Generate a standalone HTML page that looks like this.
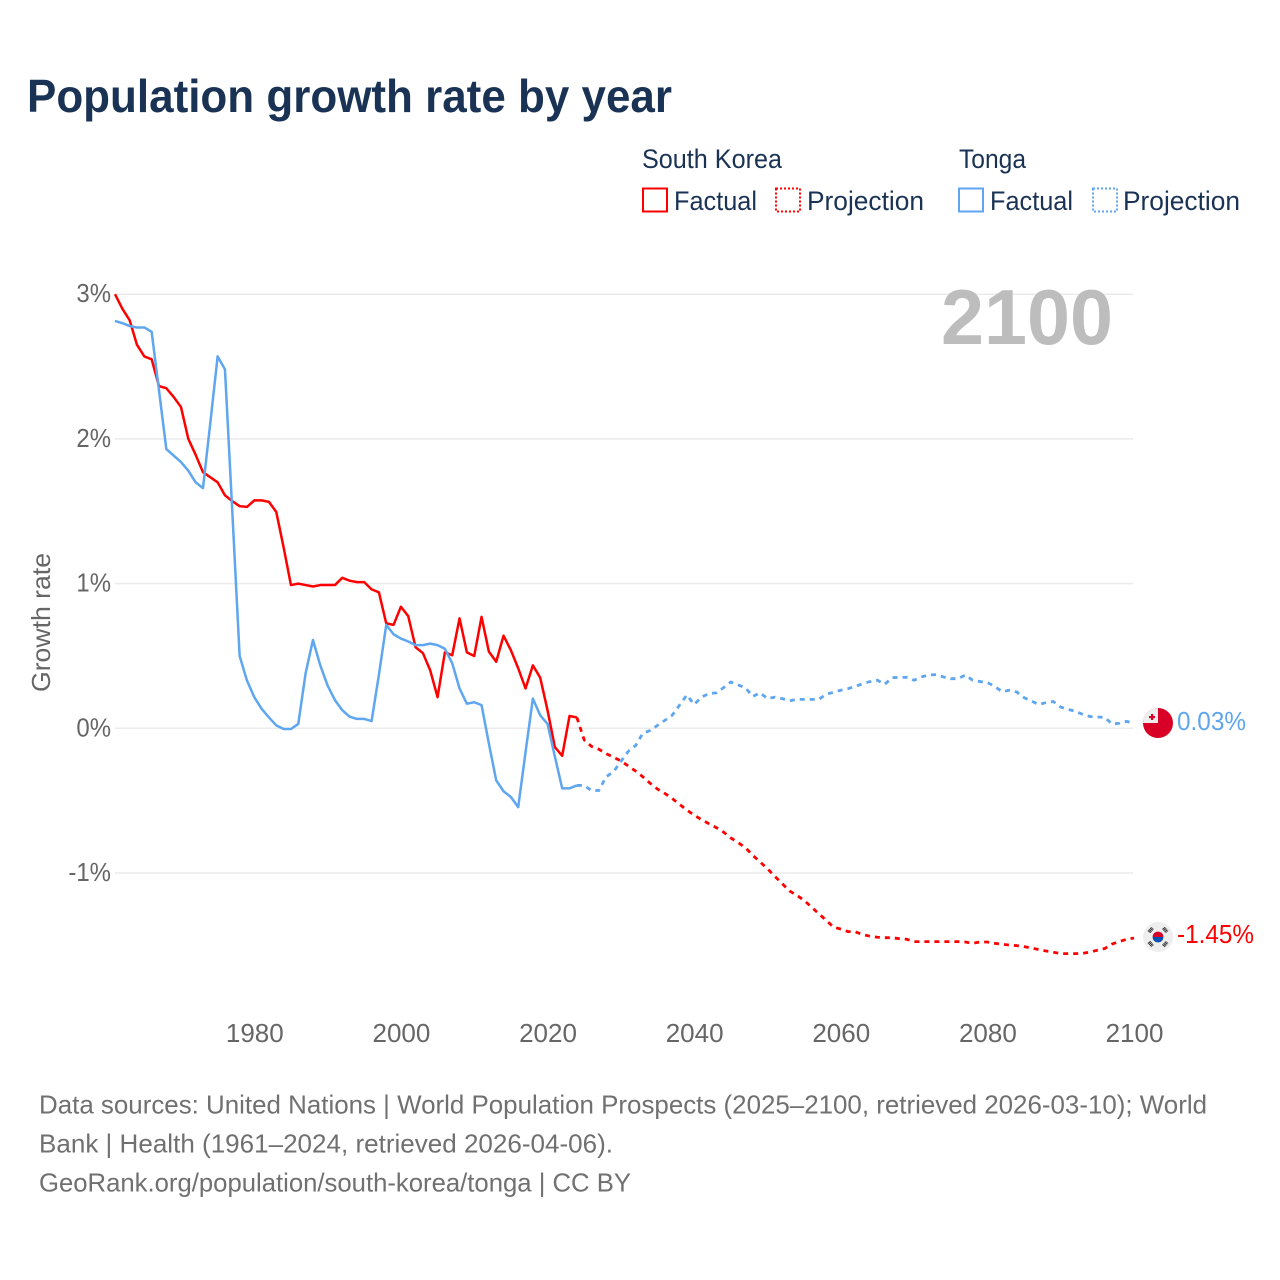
<!DOCTYPE html>
<html lang="en">
<head>
<meta charset="utf-8">
<title>Population growth rate by year</title>
<style>
html,body{margin:0;padding:0;background:#fff}
svg{display:block;font-family:"Liberation Sans",sans-serif}
</style>
</head>
<body>
<svg id="chart" xmlns="http://www.w3.org/2000/svg" width="1280" height="1280" viewBox="0 0 1280 1280">
  <rect x="0" y="0" width="1280" height="1280" fill="#ffffff"/>
  <text x="27" y="112" font-size="46" font-weight="700" fill="#1a3354" textLength="645" lengthAdjust="spacingAndGlyphs">Population growth rate by year</text>

  <g font-size="27" fill="#1a3354">
    <text x="642" y="168" textLength="140" lengthAdjust="spacingAndGlyphs">South Korea</text>
    <text x="959" y="168" textLength="67" lengthAdjust="spacingAndGlyphs">Tonga</text>
    <g>
      <rect x="643" y="188.5" width="24" height="23" fill="none" stroke="#ff0000" stroke-width="2"/>
      <text x="674" y="210" textLength="83" lengthAdjust="spacingAndGlyphs">Factual</text>
    </g>
    <g>
      <rect x="776" y="188.5" width="24" height="23" fill="none" stroke="#ff0000" stroke-width="2" stroke-dasharray="2 2"/>
      <text x="807" y="210" textLength="117" lengthAdjust="spacingAndGlyphs">Projection</text>
    </g>
    <g>
      <rect x="959" y="188.5" width="24" height="23" fill="none" stroke="#5ea6ef" stroke-width="2"/>
      <text x="990" y="210" textLength="83" lengthAdjust="spacingAndGlyphs">Factual</text>
    </g>
    <g>
      <rect x="1093" y="188.5" width="24" height="23" fill="none" stroke="#5ea6ef" stroke-width="2" stroke-dasharray="2 2"/>
      <text x="1123" y="210" textLength="117" lengthAdjust="spacingAndGlyphs">Projection</text>
    </g>
  </g>

  <g id="grid"></g>
  <g id="yticks"></g>
  <g id="xticks"></g>
  <text transform="translate(50,622.5) rotate(-90)" text-anchor="middle" font-size="26" fill="#666666" textLength="139" lengthAdjust="spacingAndGlyphs">Growth rate</text>
  <text x="941" y="344" font-size="78" font-weight="700" fill="#bdbdbd" textLength="172" lengthAdjust="spacingAndGlyphs">2100</text>

  <g id="series"></g>

  <g>
    <clipPath id="tongaClip"><circle cx="1158" cy="723" r="15"/></clipPath>
    <circle cx="1158" cy="723" r="15" fill="#d80027"/>
    <rect x="1143" y="708" width="15" height="15" fill="#eeeeee" clip-path="url(#tongaClip)"/>
    <rect x="1151" y="714" width="2.2" height="6" fill="#d80027"/>
    <rect x="1149" y="716" width="6" height="2.2" fill="#d80027"/>
  </g>
  <text x="1177" y="730" font-size="26" fill="#5ea6ef" textLength="69" lengthAdjust="spacingAndGlyphs">0.03%</text>

  <g>
    <circle cx="1158" cy="937" r="15" fill="#eeeeee"/>
    <path d="M1152.6 937a5.4 5.4 0 0 1 10.8 0z" fill="#d80027"/>
    <path d="M1152.6 937a5.4 5.4 0 0 0 10.8 0z" fill="#0052b4"/>
    <g stroke="#222222" stroke-width="3.6" stroke-dasharray="1 .6">
      <line x1="1149" y1="932" x2="1152.5" y2="928"/>
      <line x1="1163.5" y1="928" x2="1167" y2="932"/>
      <line x1="1149" y1="942" x2="1152.5" y2="946"/>
      <line x1="1163.5" y1="946" x2="1167" y2="942"/>
    </g>
  </g>
  <text x="1177" y="943" font-size="26" fill="#ff0000" textLength="77" lengthAdjust="spacingAndGlyphs">-1.45%</text>

  <g font-size="26" fill="#707070">
    <text x="39" y="1113.5" textLength="1168" lengthAdjust="spacingAndGlyphs">Data sources: United Nations | World Population Prospects (2025–2100, retrieved 2026-03-10); World</text>
    <text x="39" y="1152.5" textLength="574" lengthAdjust="spacingAndGlyphs">Bank | Health (1961–2024, retrieved 2026-04-06).</text>
    <text x="39" y="1191.5" textLength="592" lengthAdjust="spacingAndGlyphs">GeoRank.org/population/south-korea/tonga | CC BY</text>
  </g>
</svg>
<script>
const factualStartYear = 1961;
const projectionStartYear = 2024;
const yTickValues = [3, 2, 1, 0, -1];
const yTickLabels = ["3%", "2%", "1%", "0%", "-1%"];
const xTickYears = [1980, 2000, 2020, 2040, 2060, 2080, 2100];
const southKoreaFactual = [3.00,2.90,2.82,2.65,2.57,2.55,2.365,2.35,2.29,2.22,2.0,1.89,1.77,1.735,1.70,1.61,1.57,1.535,1.53,1.575,1.575,1.565,1.495,1.25,0.99,1.0,0.99,0.98,0.99,0.99,0.99,1.04,1.02,1.01,1.01,0.96,0.94,0.725,0.715,0.84,0.775,0.56,0.52,0.40,0.215,0.525,0.505,0.76,0.525,0.50,0.77,0.53,0.46,0.64,0.54,0.415,0.275,0.435,0.35,0.125,-0.13,-0.19,0.085,0.075];
const tongaFactual = [2.815,2.80,2.78,2.77,2.77,2.74,2.335,1.93,1.885,1.84,1.78,1.70,1.66,2.11,2.57,2.48,1.5,0.50,0.33,0.215,0.135,0.075,0.02,-0.005,-0.005,0.03,0.38,0.61,0.435,0.295,0.195,0.125,0.08,0.065,0.065,0.05,0.37,0.715,0.65,0.62,0.60,0.575,0.575,0.585,0.575,0.55,0.45,0.275,0.17,0.18,0.16,-0.105,-0.36,-0.435,-0.475,-0.545,-0.165,0.205,0.09,0.03,-0.195,-0.415,-0.415,-0.395];
const southKoreaProjection = [0.075,-0.08,-0.125,-0.145,-0.175,-0.2,-0.225,-0.26,-0.295,-0.335,-0.38,-0.42,-0.45,-0.485,-0.525,-0.565,-0.60,-0.631,-0.659,-0.686,-0.717,-0.758,-0.79,-0.825,-0.878,-0.924,-0.97,-1.023,-1.073,-1.124,-1.154,-1.189,-1.235,-1.281,-1.327,-1.373,-1.388,-1.405,-1.407,-1.426,-1.437,-1.444,-1.447,-1.447,-1.454,-1.458,-1.474,-1.474,-1.474,-1.474,-1.474,-1.474,-1.474,-1.477,-1.486,-1.477,-1.477,-1.486,-1.493,-1.498,-1.502,-1.509,-1.518,-1.529,-1.539,-1.548,-1.557,-1.557,-1.557,-1.555,-1.546,-1.534,-1.522,-1.491,-1.474,-1.458,-1.449];
const tongaProjection = [-0.395,-0.395,-0.43,-0.43,-0.335,-0.30,-0.23,-0.16,-0.12,-0.035,-0.015,0.02,0.055,0.09,0.16,0.23,0.165,0.215,0.24,0.245,0.28,0.32,0.30,0.28,0.22,0.245,0.205,0.215,0.205,0.19,0.20,0.20,0.20,0.20,0.235,0.249,0.263,0.274,0.29,0.309,0.323,0.332,0.304,0.35,0.352,0.352,0.332,0.355,0.368,0.371,0.355,0.343,0.343,0.368,0.332,0.323,0.316,0.29,0.253,0.263,0.251,0.212,0.189,0.164,0.178,0.185,0.147,0.131,0.117,0.097,0.081,0.078,0.076,0.03,0.035,0.048,0.032];

const NS = "http://www.w3.org/2000/svg";
const xScale = function (year) { return 115 + (year - 1961) * (1134 - 115) / 139; };
const yScale = function (value) { return 728.3 - value * 144.7; };

function linePath(startYear, values) {
  return values.map(function (v, i) {
    return (i ? "L" : "M") + xScale(startYear + i).toFixed(2) + " " + yScale(v).toFixed(2);
  }).join("");
}

const grid = document.getElementById("grid");
const yticks = document.getElementById("yticks");
yTickValues.forEach(function (v, i) {
  const line = document.createElementNS(NS, "line");
  
  
  line.setAttribute("x1", 115);
  line.setAttribute("x2", 1133);
  line.setAttribute("y1", yScale(v));
  line.setAttribute("y2", yScale(v));
  line.setAttribute("stroke", "#ebebeb");
  line.setAttribute("stroke-width", "1.5");
  grid.appendChild(line);

  const label = document.createElementNS(NS, "text");
  
  
  label.setAttribute("x", 111);
  label.setAttribute("y", yScale(v) + 8);
  label.setAttribute("text-anchor", "end");
  label.setAttribute("font-size", "26");
  label.setAttribute("fill", "#666666");
  label.textContent = yTickLabels[i];
  yticks.appendChild(label);
  label.setAttribute("textLength", (label.getComputedTextLength() * 0.92).toFixed(1));
  label.setAttribute("lengthAdjust", "spacingAndGlyphs");
});

const xticks = document.getElementById("xticks");
xTickYears.forEach(function (year) {
  const label = document.createElementNS(NS, "text");
  
  
  label.setAttribute("x", xScale(year) + 0.5);
  label.setAttribute("y", 1042);
  label.setAttribute("text-anchor", "middle");
  label.setAttribute("font-size", "26");
  label.setAttribute("fill", "#666666");
  label.textContent = String(year);
  xticks.appendChild(label);
});

const seriesGroup = document.getElementById("series");

const tongaFactualLine = document.createElementNS(NS, "path");


tongaFactualLine.setAttribute("d", linePath(factualStartYear, tongaFactual));
tongaFactualLine.setAttribute("fill", "none");
tongaFactualLine.setAttribute("stroke", "#5ea6ef");
tongaFactualLine.setAttribute("stroke-width", "2.5");
tongaFactualLine.setAttribute("stroke-linejoin", "round");

const tongaProjectionLine = document.createElementNS(NS, "path");


tongaProjectionLine.setAttribute("d", linePath(projectionStartYear, tongaProjection));
tongaProjectionLine.setAttribute("fill", "none");
tongaProjectionLine.setAttribute("stroke", "#5ea6ef");
tongaProjectionLine.setAttribute("stroke-width", "2.8");
tongaProjectionLine.setAttribute("stroke-dasharray", "5 5");

const koreaProjectionLine = document.createElementNS(NS, "path");


koreaProjectionLine.setAttribute("d", linePath(projectionStartYear, southKoreaProjection));
koreaProjectionLine.setAttribute("fill", "none");
koreaProjectionLine.setAttribute("stroke", "#ff0000");
koreaProjectionLine.setAttribute("stroke-width", "2.8");
koreaProjectionLine.setAttribute("stroke-dasharray", "5 5");

const koreaFactualLine = document.createElementNS(NS, "path");


koreaFactualLine.setAttribute("d", linePath(factualStartYear, southKoreaFactual));
koreaFactualLine.setAttribute("fill", "none");
koreaFactualLine.setAttribute("stroke", "#ff0000");
koreaFactualLine.setAttribute("stroke-width", "2.5");
koreaFactualLine.setAttribute("stroke-linejoin", "round");

seriesGroup.appendChild(koreaFactualLine);
seriesGroup.appendChild(koreaProjectionLine);
seriesGroup.appendChild(tongaFactualLine);
seriesGroup.appendChild(tongaProjectionLine);
</script>
</body>
</html>
